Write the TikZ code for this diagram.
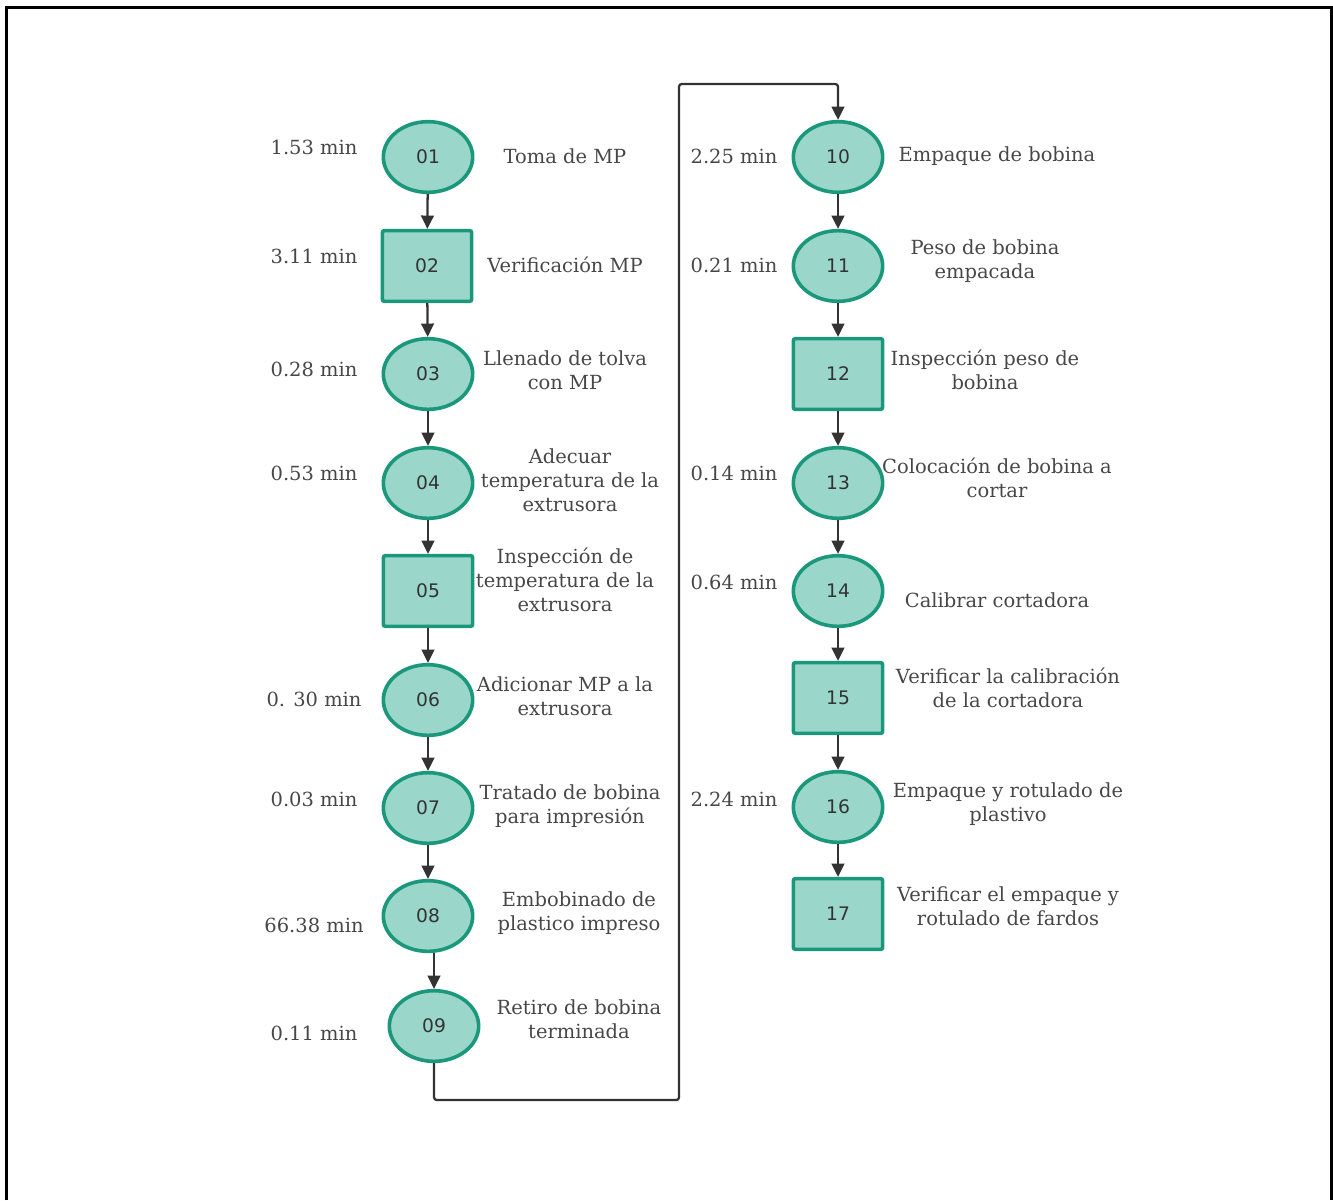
\documentclass[tikz,border=0pt]{standalone}
\usepackage{fontspec}
\setmainfont{DejaVu Serif}
\newfontfamily\numfont{DejaVu Sans}
\usetikzlibrary{shapes.geometric,arrows.meta}
\definecolor{tealfill}{HTML}{9AD6CA}
\definecolor{tealline}{HTML}{1B987C}
\definecolor{txt}{HTML}{474747}
\definecolor{conn}{HTML}{333333}
\tikzset{
  opnode/.style={ellipse, draw=tealline, fill=tealfill, line width=2.7pt,
    minimum width=67pt, minimum height=53pt, inner sep=0pt,
    font=\numfont\fontsize{14pt}{16pt}\selectfont, text=conn},
  insnode/.style={rectangle, rounded corners=1.5pt, draw=tealline, fill=tealfill, line width=2.7pt,
    minimum width=67pt, minimum height=53pt, inner sep=0pt,
    font=\numfont\fontsize{14pt}{16pt}\selectfont, text=conn},
  lbl/.style={align=center, text=txt, inner sep=0pt,
    font=\fontsize{14.6pt}{18pt}\selectfont},
  tlbl/.style={text=txt, inner sep=0pt, font=\fontsize{14.6pt}{18pt}\selectfont},
  arr/.style={draw=conn, line width=1.7pt, -{Triangle[width=9.5pt,length=10pt]}},
  frameline/.style={draw=black, line width=2.4pt}
}
\begin{document}
\begin{tikzpicture}[x=0.75pt,y=-0.75pt]
\useasboundingbox (0,0) rectangle (1333,1200);
% frame
\draw[frameline] (6.5,1200) -- (6.5,7.5) -- (1331.5,7.5) -- (1331.5,1200);

% left column nodes
\node[opnode]  (n01) at (428,157) {01};
\node[insnode] (n02) at (427,266) {02};
\node[opnode]  (n03) at (428,374) {03};
\node[opnode]  (n04) at (428,483) {04};
\node[insnode] (n05) at (428,591) {05};
\node[opnode]  (n06) at (428,700) {06};
\node[opnode]  (n07) at (428,808) {07};
\node[opnode]  (n08) at (428,916) {08};
\node[opnode]  (n09) at (434,1026) {09};

% right column nodes
\node[opnode]  (n10) at (838,157) {10};
\node[opnode]  (n11) at (838,266) {11};
\node[insnode] (n12) at (838,374) {12};
\node[opnode]  (n13) at (838,483) {13};
\node[opnode]  (n14) at (838,591) {14};
\node[insnode] (n15) at (838,698) {15};
\node[opnode]  (n16) at (838,807) {16};
\node[insnode] (n17) at (838,914) {17};

% time labels left
\node[tlbl] (t01) at (314,147) {1.53 min};
\node[tlbl] (t02) at (314,256) {3.11 min};
\node[tlbl] (t03) at (314,369) {0.28 min};
\node[tlbl] (t04) at (314,473) {0.53 min};
\node[tlbl] (t06) at (314,699) {0. 30 min};
\node[tlbl] (t07) at (314,799) {0.03 min};
\node[tlbl] (t08) at (314,925) {66.38 min};
\node[tlbl] (t09) at (314,1033) {0.11 min};
% time labels right
\node[tlbl] (t10) at (734,156) {2.25 min};
\node[tlbl] (t11) at (734,265) {0.21 min};
\node[tlbl] (t13) at (734,473) {0.14 min};
\node[tlbl] (t14) at (734,582) {0.64 min};
\node[tlbl] (t16) at (734,799) {2.24 min};

% descriptions left
\node[lbl] (d01) at (565,156) {Toma de MP};
\node[lbl] (d02) at (565,265) {Verificación MP};
\node[lbl] (d03) at (565,370) {Llenado de tolva\\con MP};
\node[lbl] (d04) at (570,480) {Adecuar\\temperatura de la\\extrusora};
\node[lbl] (d05) at (565,580) {Inspección de\\temperatura de la\\extrusora};
\node[lbl] (d06) at (565,696) {Adicionar MP a la\\extrusora};
\node[lbl] (d07) at (570,806) {Tratado de bobina\\para impresión};
\node[lbl] (d08) at (579,913) {Embobinado de\\plastico impreso};
\node[lbl] (d09) at (579,1019) {Retiro de bobina\\terminada};

% descriptions right
\node[lbl] (d10) at (997,156) {Empaque de bobina};
\node[lbl] (d11) at (985,261) {Peso de bobina\\empacada};
\node[lbl] (d12) at (985,370) {Inspección peso de\\bobina};
\node[lbl] (d13) at (997,478) {Colocación de bobina a\\cortar};
\node[lbl] (d14) at (997,600) {Calibrar cortadora};
\node[lbl] (d15) at (1008,688) {Verificar la calibración\\de la cortadora};
\node[lbl] (d16) at (1008,804) {Empaque y rotulado de\\plastivo};
\node[lbl] (d17) at (1008,906) {Verificar el empaque y\\rotulado de fardos};

% connectors left
\draw[arr] (n01) -- (n02);
\draw[arr] (n02) -- (n03);
\draw[arr] (n03) -- (n04);
\draw[arr] (n04) -- (n05);
\draw[arr] (n05) -- (n06);
\draw[arr] (n06) -- (n07);
\draw[arr] (n07) -- (n08);
\draw[arr] (n08.south -| n09.north) -- (n09.north);

% loop connector
\coordinate (lb) at (679,1100);
\coordinate (lt) at (679,84);
\draw[arr, rounded corners=2pt] (n09.south) |- (lb) -- (lt) -| (n10.north);

% connectors right
\draw[arr] (n10) -- (n11);
\draw[arr] (n11) -- (n12);
\draw[arr] (n12) -- (n13);
\draw[arr] (n13) -- (n14);
\draw[arr] (n14) -- (n15);
\draw[arr] (n15) -- (n16);
\draw[arr] (n16) -- (n17);
\end{tikzpicture}
\end{document}
